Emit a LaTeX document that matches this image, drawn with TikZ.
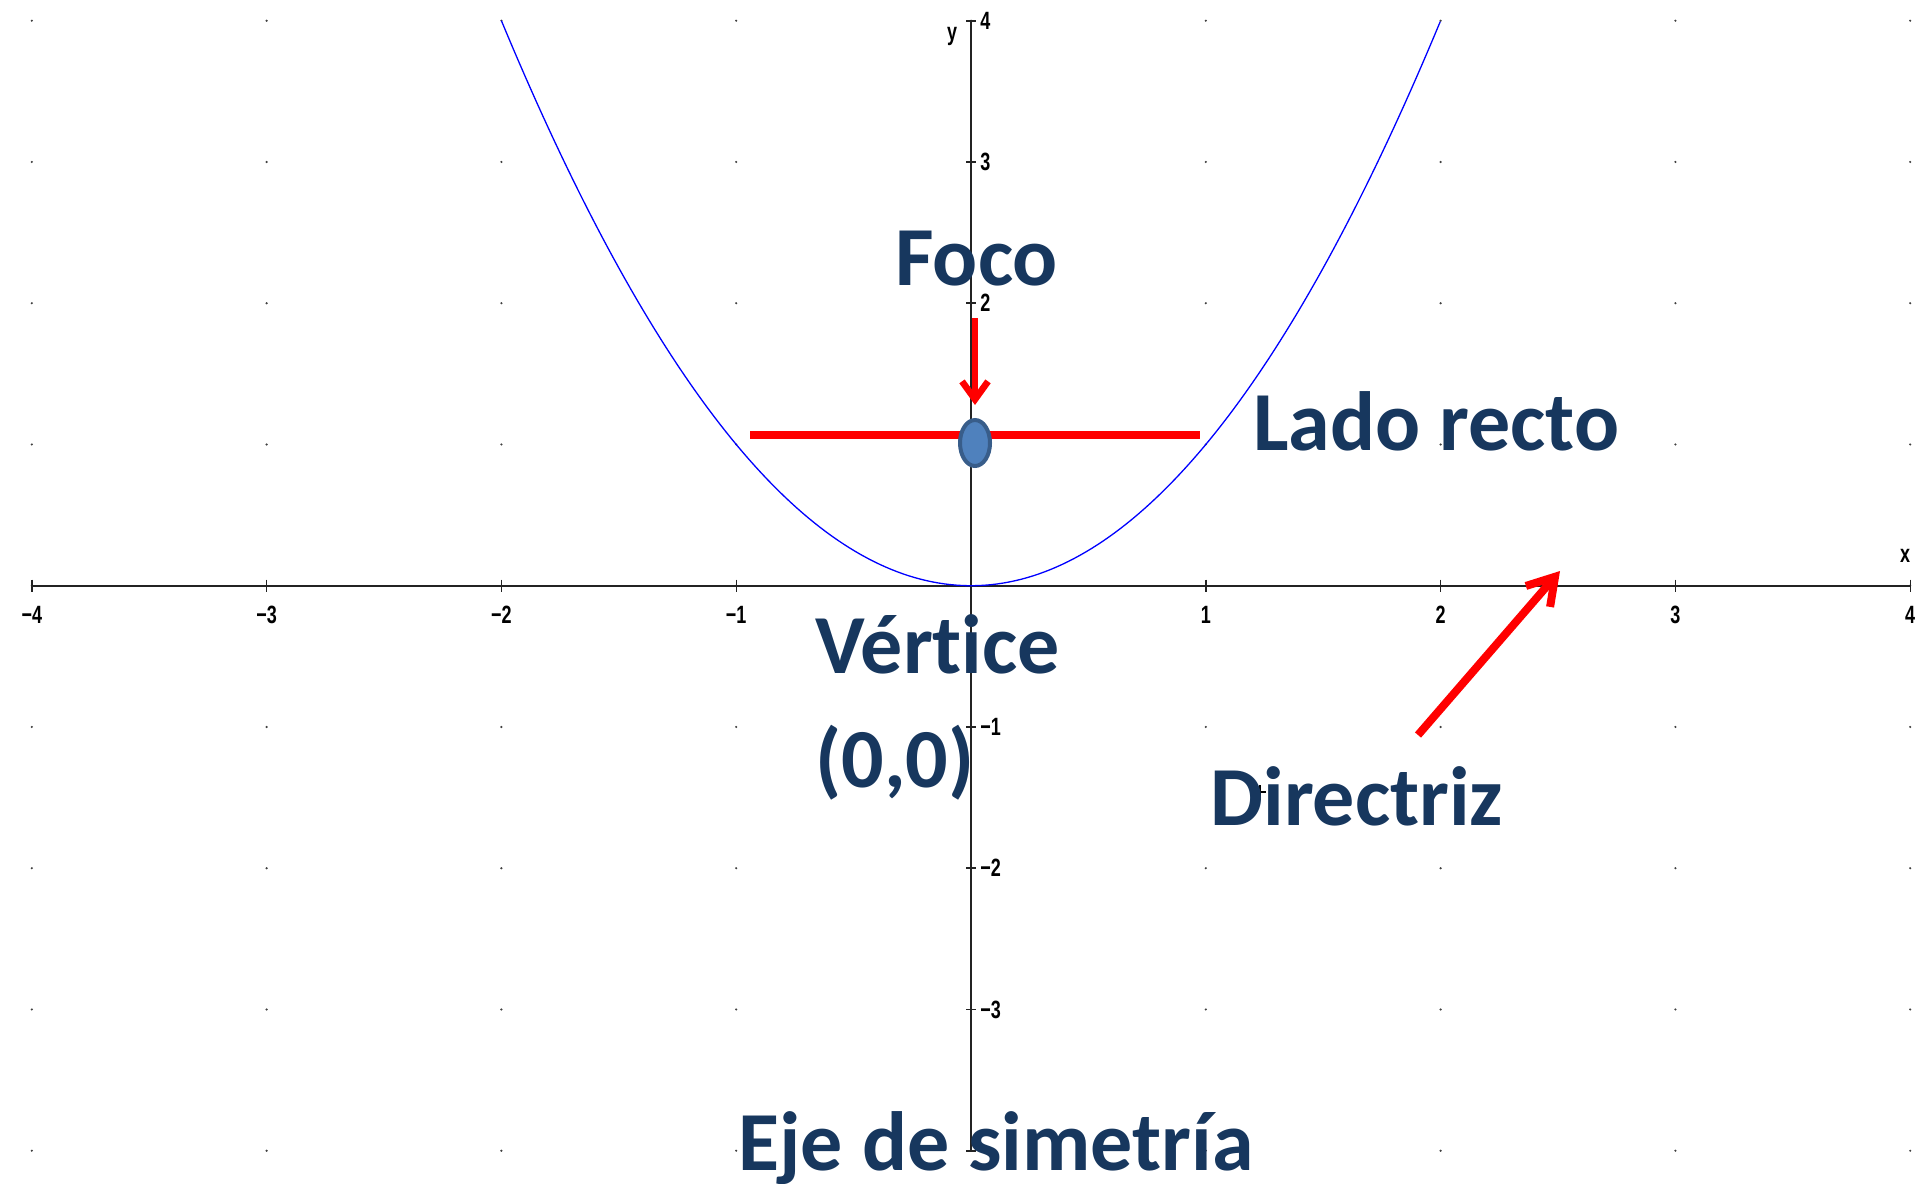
\documentclass[tikz,border=0pt]{standalone}
\usepackage{fontspec}
\setmainfont{Carlito}[Ligatures=NoCommon]
\newfontfamily\tickfont{Liberation Sans}
\usetikzlibrary{shapes.geometric,arrows.meta}
\definecolor{navy}{RGB}{23,55,94}
\definecolor{focfill}{HTML}{4F81BD}
\definecolor{focline}{HTML}{385D8A}
\definecolor{axisgray}{RGB}{35,35,35}
\newcommand{\tk}[1]{\scalebox{0.72}[1]{#1}}
\tikzset{
  lbl/.style={font=\fontsize{42}{50}\selectfont\bfseries, text=navy, inner sep=0pt, anchor=base west},
  ticklbl/.style={font=\tickfont\bfseries\fontsize{12.5}{12.5}\selectfont, inner sep=0pt, text=black},
  redline/.style={draw=red, line width=#1},
}
\begin{document}
\begin{tikzpicture}[x=0.5pt,y=-0.5pt]
\useasboundingbox (0,0) rectangle (1920,1183);
\fill[white] (0,0) rectangle (1920,1183);

% graph in data coordinates
\begin{scope}[shift={(971,585.7)}, x=117.4pt, y=70.625pt]
  \foreach \i in {-4,...,4}
    \foreach \j in {-4,...,4}
      \fill[black!75] (\i,\j) circle (0.6pt);
  \draw[axisgray, line width=1pt] (-4,0) -- (4,0);
  \draw[axisgray, line width=0.7pt] (0,-4) -- (0,4);
  \foreach \i in {-4,...,4}
    \draw[axisgray, line width=0.7pt] (\i,0) ++(0,3pt) -- ++(0,-6pt);
  \foreach \j in {-4,...,4}
    \draw[axisgray, line width=0.8pt] (0,\j) ++(-2.5pt,0) -- ++(5pt,0);
  \foreach \i/\t in {-4/−4,-3/−3,-2/−2,-1/−1,1/1,2/2,3/3,4/4}
    \node[ticklbl] (xl\i) at ([yshift=-14.5pt]\i,0) {\tk{\t}};
  \foreach \j/\t in {4/4,3/3,2/2,-1/−1,-2/−2,-3/−3}
    \node[ticklbl, anchor=west] (yl\j) at ([xshift=4.5pt]0,\j) {\tk{\t}};
  \draw[blue, line width=0.65pt] plot[domain=-2:2, samples=160] (\x,{\x*\x});
\end{scope}

\node[ticklbl] (xname) at (1905,556) {\tk{x}};
\node[ticklbl] (yname) at (952,36) {\tk{y}};

% small cursor mark
\draw[black, line width=0.6pt] (1260,785) -- (1260,800) (1254,792) -- (1266,792);

% latus rectum
\coordinate (lrA) at (750,435);
\coordinate (lrB) at (1200,435);
\draw[redline=4pt] (lrA) -- (lrB);

% focus
\node[ellipse, draw=focline, fill=focfill, line width=2pt, minimum width=15pt, minimum height=23pt, inner sep=0pt] (foc) at (975,443) {};

% arrow to focus
\coordinate (fa) at (975,318);
\draw[redline=3.3pt, -{Straight Barb[length=9pt,width=13pt]}] (fa) -- ([yshift=6.5pt]foc.north);

% directrix arrow
\coordinate (da) at (1418,735);
\coordinate (db) at (1560,571);
\draw[redline=4pt, -{Straight Barb[length=13pt,width=16pt]}] (da) -- (db);

% labels
\node[lbl] (foco) at (895,285) {Foco};
\node[lbl] (lado) at (1253,450) {Lado recto};
\node[lbl] (vert) at (815,673) {Vért\kern0pt ice};
\node[lbl] (orig) at (815,787) {(0,0)};
\node[lbl] (dirx) at (1210,825) {Directriz};
\node[lbl] (eje) at (738,1170) {Eje de simetría};
\end{tikzpicture}
\end{document}
